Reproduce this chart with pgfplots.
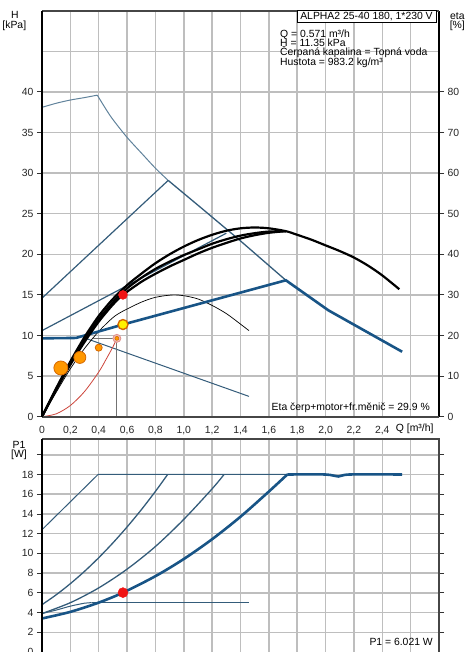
\documentclass[border=0pt]{standalone}
\usepackage{fontspec}
\setmainfont{Liberation Sans}
\usepackage{pgfplots}
\pgfplotsset{compat=1.18}
\definecolor{gfBlue}{RGB}{24,84,134}
\definecolor{gfThin}{RGB}{52,92,122}
\definecolor{gfPale}{RGB}{96,130,155}
\definecolor{gridGray}{RGB}{190,190,190}
\definecolor{frameGray}{RGB}{70,70,70}
\definecolor{dotOrange}{RGB}{255,152,0}
\definecolor{dotEdge}{RGB}{214,104,0}
\definecolor{sysRed}{RGB}{205,70,60}
\definecolor{dotRed}{RGB}{240,20,20}

\tikzset{gl/.style={draw=gridGray, line width=1.5bp}}
\pgfplotsset{
  gfbase/.style={
    scale only axis, width=397bp,
    xmin=0, xmax=2.8,
    tick align=outside, major tick length=5bp,
    ytick style={black!80, line width=0.8bp},
    xtick style={draw=none},
    xtick={0,0.2,0.4,0.6,0.8,1.0,1.2,1.4,1.6,1.8,2.0,2.2,2.4,2.6},
    ticklabel style={font=\fontsize{10.4bp}{12bp}\selectfont, text=black!85},
    /pgf/number format/assume math mode=true,
    axis line style={draw=none},
  },
}

\begin{document}
\begin{tikzpicture}[font=\fontsize{10.4bp}{12bp}\selectfont]
\path[use as bounding box] (0,0) rectangle (472bp,652bp);

% ---- H / eta chart
\begin{axis}[gfbase, at={(42bp,235.3bp)}, anchor=south west, height=406bp,
  ymin=0, ymax=50, ytick={0,5,...,40},
  xticklabels={0,{0,2},{0,4},{0,6},{0,8},{1,0},{1,2},{1,4},{1,6},{1,8},{2,0},{2,2},{2,4},{}},
  xticklabel style={yshift=-1.5bp},
]
\pgfplotsinvokeforeach{0.2,0.4,0.6,0.8,1.0,1.2,1.4,1.6,1.8,2.0,2.2,2.4,2.6}{
  \draw[gl] (axis cs:#1,0) -- (axis cs:#1,50);}
\pgfplotsinvokeforeach{5,10,15,20,25,30,35,40,45}{
  \draw[gl] (axis cs:0,#1) -- (axis cs:2.8,#1);}
% max curve
\addplot[gfPale, line width=1bp, smooth] coordinates {(0,38.1) (0.1,38.6) (0.2,39.0) (0.3,39.3) (0.39,39.6)};
\addplot[gfPale, line width=1bp, smooth] coordinates {(0.39,39.6) (0.45,37.9) (0.5,36.6) (0.6,34.4) (0.71,32.3) (0.8,30.6) (0.89,29.1)};
\addplot[gfThin, line width=1.3bp] coordinates {(0.89,29.1) (1.11,25.9) (1.39,21.8) (1.72,16.8)};
% proportional pressure lines
\addplot[gfThin, line width=1.2bp] coordinates {(0,14.6) (0.89,29.1)};
\addplot[gfThin, line width=1.2bp] coordinates {(0,10.6) (1.3,22.6)};
\addplot[gfThin, line width=1bp] coordinates {(0.3,9.7) (1.46,2.5)};
% thin eta curve
\addplot[black, line width=0.7bp, smooth] coordinates {(0,0) (0.1,3.0) (0.2,5.9) (0.3,8.4) (0.4,10.5) (0.5,12.2) (0.571,13.0) (0.7,14.1) (0.8,14.7) (0.92,15.0) (1.0,14.9) (1.1,14.5) (1.2,13.7) (1.3,12.7) (1.4,11.4) (1.46,10.6)};
% system curve
\addplot[sysRed, line width=0.8bp, smooth] coordinates {(0,0) (0.1,0.35) (0.2,1.38) (0.3,3.1) (0.4,5.5) (0.45,7.0) (0.5,8.6) (0.53,9.7)};
% marker lines
\addplot[black!55, line width=1.2bp] coordinates {(0.36,9.65) (0.528,9.65) (0.528,0)};
% selected curve
\addplot[gfBlue, line width=2.6bp] coordinates {(0,9.65) (0.24,9.7) (0.571,11.35) (1.72,16.8) (2.02,13.1) (2.54,8.0)};
% eta curves
\addplot[black, line width=2.2bp, smooth] coordinates {(0,0) (0.1,3.5) (0.2,6.8) (0.3,9.8) (0.4,12.4) (0.5,14.5) (0.6,16.2) (0.7,17.6) (0.8,18.9) (0.9,20.0) (1.0,20.95) (1.1,21.75) (1.2,22.4) (1.3,22.9) (1.4,23.2) (1.5,23.3) (1.6,23.2) (1.72,22.85) (1.8,22.4) (1.9,21.8) (2.0,21.1) (2.1,20.4) (2.2,19.6) (2.3,18.6) (2.4,17.4) (2.52,15.7)};
\addplot[black, line width=2.2bp, smooth] coordinates {(0,0) (0.1,3.4) (0.2,6.6) (0.3,9.5) (0.4,12.0) (0.5,14.1) (0.6,15.8) (0.7,17.1) (0.8,18.2) (0.9,19.1) (1.0,19.9) (1.1,20.6) (1.2,21.3) (1.3,21.85) (1.4,22.3) (1.5,22.6) (1.6,22.8) (1.72,22.85)};
\addplot[black, line width=2.2bp, smooth] coordinates {(0,0) (0.1,3.3) (0.2,6.4) (0.3,9.2) (0.4,11.7) (0.5,13.8) (0.571,15.0) (0.7,16.6) (0.8,17.6) (0.9,18.5) (1.0,19.3) (1.1,20.1) (1.2,20.8) (1.3,21.4) (1.4,21.95) (1.5,22.35) (1.6,22.65) (1.72,22.85)};
% points
\addplot[only marks, mark=*, mark size=7bp, mark options={fill=dotOrange, draw=dotEdge, line width=0.8bp}] coordinates {(0.133,6.0)};
\addplot[only marks, mark=*, mark size=6bp, mark options={fill=dotOrange, draw=dotEdge, line width=0.8bp}] coordinates {(0.267,7.3)};
\addplot[only marks, mark=*, mark size=3.5bp, mark options={fill=dotOrange, draw=dotEdge, line width=0.8bp}] coordinates {(0.40,8.5)};
\addplot[only marks, mark=*, mark size=4bp, mark options={fill=sysRed!35, draw=sysRed!60, line width=0.8bp}] coordinates {(0.528,9.65)};
\addplot[only marks, mark=*, mark size=2bp, mark options={fill=dotOrange, draw=dotEdge, line width=0.5bp}] coordinates {(0.528,9.65)};
\addplot[only marks, mark=*, mark size=5bp, mark options={fill=yellow, draw=dotEdge, line width=1.4bp}] coordinates {(0.571,11.35)};
\addplot[only marks, mark=*, mark size=4.5bp, mark options={fill=dotRed, draw=dotRed}] coordinates {(0.571,15.0)};
\end{axis}

% eta axis
\begin{axis}[scale only axis, width=397bp, height=406bp, at={(42bp,235.3bp)}, anchor=south west,
  xmin=0, xmax=2.8, ymin=0, ymax=100, axis y line*=right, axis x line=none,
  ytick={0,10,...,80}, tick align=outside, major tick length=5bp,
  tick style={black!80, line width=0.8bp},
  y axis line style={line width=2bp, black},
  ticklabel style={font=\fontsize{10.4bp}{12bp}\selectfont, text=black!85},
  /pgf/number format/assume math mode=true,
]
\addplot[draw=none] coordinates {(0,0)};
\end{axis}

% ---- P1 chart
\begin{axis}[gfbase, at={(42bp,0bp)}, anchor=south west, height=213bp,
  ymin=0, ymax=21.6, ytick={0,2,...,20},
  yticklabels={0,2,4,6,8,10,12,14,16,18,{}},
  xticklabels={},
]
\pgfplotsinvokeforeach{0.2,0.4,0.6,0.8,1.0,1.2,1.4,1.6,1.8,2.0,2.2,2.4,2.6}{
  \draw[gl] (axis cs:#1,0) -- (axis cs:#1,21.6);}
\pgfplotsinvokeforeach{2,4,6,8,10,12,14,16,18,20}{
  \draw[gl] (axis cs:0,#1) -- (axis cs:2.8,#1);}
\addplot[gfThin, line width=1bp] coordinates {(0,12.4) (0.395,18.0) (1.73,18.0)};
\addplot[gfThin, line width=1.3bp, smooth] coordinates {(0,4.8) (0.1,5.80) (0.2,6.93) (0.3,8.18) (0.4,9.56) (0.5,11.06) (0.6,12.68) (0.7,14.42) (0.8,16.29) (0.886,18.0)};
\addplot[gfThin, line width=1.3bp, smooth] coordinates {(0,3.9) (0.2,5.0) (0.4,6.5) (0.6,8.4) (0.8,10.7) (1.0,13.45) (1.2,16.55) (1.284,18.0)};
\addplot[gfThin, line width=1bp, smooth] coordinates {(0,3.9) (0.1,4.25) (0.2,4.65) (0.3,4.95) (0.35,5.0)};
\addplot[gfThin, line width=1bp] coordinates {(0.35,5.0) (1.46,5.0)};
\addplot[gfBlue, line width=2.6bp, smooth] coordinates {(0,3.4) (0.2,4.07) (0.4,5.01) (0.571,6.02) (0.8,7.69) (1.0,9.43) (1.2,11.44) (1.4,13.72) (1.6,16.27) (1.73,18.0)};
\addplot[gfBlue, line width=2.6bp, smooth] coordinates {(1.73,18.0) (2.0,18.0) (2.09,17.8) (2.17,18.0) (2.54,18.0)};
\addplot[only marks, mark=*, mark size=5bp, mark options={fill=dotRed, draw=dotRed}] coordinates {(0.571,6.021)};
\end{axis}

% frame lines
\draw[draw=frameGray, line width=2bp] (42bp,641.3bp) -- (439bp,641.3bp);
\draw[draw=frameGray, line width=1.8bp] (42bp,235.3bp) -- (439bp,235.3bp);
\draw[draw=frameGray, line width=2.6bp] (42bp,213bp) -- (439bp,213bp) -- (439bp,0bp);
\draw[draw=black, line width=2.6bp] (42bp,641.3bp) -- (42bp,235.3bp);
\draw[draw=black, line width=2.6bp] (42bp,213bp) -- (42bp,0bp);

% texts
\draw[black, line width=0.9bp, fill=white] (297bp,641.3bp) rectangle (436bp,630bp);
\node at (366.5bp,635.7bp) {ALPHA2 25-40 180, 1*230 V};
\node[anchor=base west, inner sep=0pt] at (280bp,614.5bp) {Q = 0.571 m³/h};
\node[anchor=base west, inner sep=0pt] at (280bp,605.2bp) {H = 11.35 kPa};
\node[anchor=base west, inner sep=0pt] at (280bp,596bp) {Čerpaná kapalina = Topná voda};
\node[anchor=base west, inner sep=0pt] at (280bp,586.8bp) {Hustota = 983.2 kg/m³};
\node[anchor=base east, inner sep=0pt] at (430bp,241bp) {Eta čerp+motor+fr.měnič = 29.9 \%};
\node[anchor=base east, inner sep=0pt] at (433bp,6.5bp) {P1 = 6.021 W};
\node at (15bp,637bp) {H};
\node at (14.3bp,626bp) {[kPa]};
\node at (457.3bp,636.3bp) {eta};
\node at (457.3bp,626bp) {[\%]};
\node at (19bp,207bp) {P1};
\node at (19bp,197bp) {[W]};
\node at (414.7bp,222.7bp) {Q [m³/h]};
\end{tikzpicture}
\end{document}
